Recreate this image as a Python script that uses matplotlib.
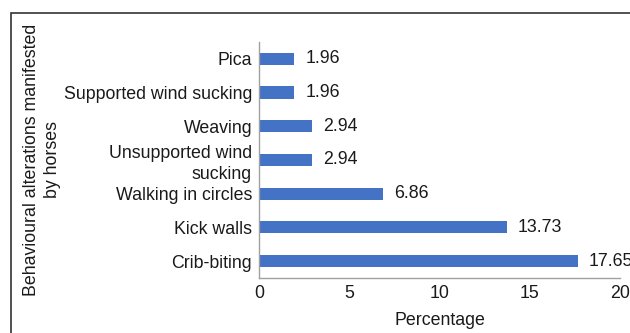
import matplotlib.pyplot as plt
from matplotlib.patches import Rectangle

plt.rcParams['font.family'] = ['Liberation Sans', 'DejaVu Sans']

behaviours = ['Crib-biting', 'Kick walls', 'Walking in circles',
              'Unsupported wind\nsucking', 'Weaving',
              'Supported wind sucking', 'Pica']
percent = [17.65, 13.73, 6.86, 2.94, 2.94, 1.96, 1.96]

fs = 12.8
fig = plt.figure(figsize=(6.3, 3.33), dpi=100)
ax = fig.add_axes([0.4111, 0.1652, 0.573, 0.7087])

# outer frame, cropped at right and bottom like the source image
fig.patches.append(Rectangle((11 / 630, -0.1), 1.2, 1 - 13 / 333 + 0.1,
                             transform=fig.transFigure, fill=False,
                             edgecolor='#333333', linewidth=1.2))

pos = range(len(behaviours))
ax.barh(pos, percent, height=0.36, color='#4472C4')
for p, v in zip(pos, percent):
    ax.text(v + 0.6, p, f'{v:.2f}', va='center', ha='left', fontsize=fs,
            color='#1a1a1a', clip_on=False)

ax.set_yticks(list(pos))
ax.set_yticklabels(behaviours, fontsize=fs, color='#1a1a1a',
                   linespacing=1.3)
ax.set_xlim(0, 20)
ax.set_ylim(-0.5, 6.5)
ax.set_xticks([0, 5, 10, 15, 20])
ax.tick_params(axis='both', length=0, labelsize=fs, colors='#1a1a1a')
ax.tick_params(axis='x', pad=5)
ax.tick_params(axis='y', pad=5)

for s in ['top', 'right']:
    ax.spines[s].set_visible(False)
for s in ['left', 'bottom']:
    ax.spines[s].set_color('#a0a0a0')
    ax.spines[s].set_linewidth(1)

ax.set_xlabel('Percentage', fontsize=fs, color='#1a1a1a', labelpad=7)
ax.set_ylabel('Behavioural alterations manifested\nby horses', fontsize=fs,
              color='#1a1a1a', labelpad=0, linespacing=1.35)
ax.yaxis.set_label_coords(-0.548, 0.5)

fig.savefig('out.png', dpi=100)
